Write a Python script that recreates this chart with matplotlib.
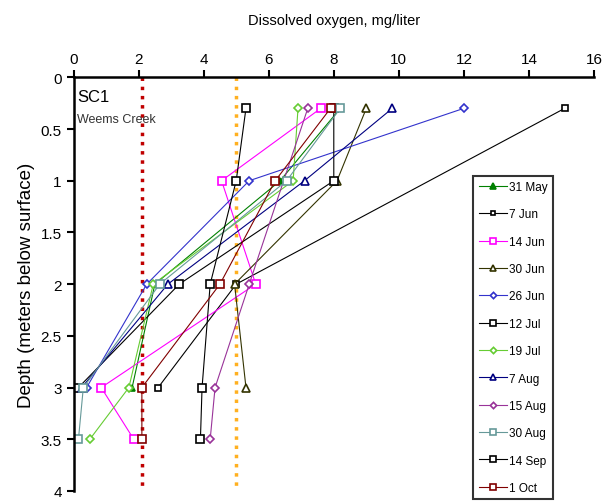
import numpy as np
import matplotlib.pyplot as plt

nan = np.nan

# sampling depths (m below surface)
depths = [0.3, 1.0, 2.0, 3.0, 3.5]

dates = ['31 May', '7 Jun', '14 Jun', '30 Jun', '26 Jun', '12 Jul',
         '19 Jul', '7 Aug', '15 Aug', '30 Aug', '14 Sep', '1 Oct']

# dissolved oxygen (mg/liter) at each depth, one list per date
do_31may = [8.2, 6.35, 2.5, 1.8, nan]
do_7jun = [15.1, nan, 5.0, 2.6, nan]
do_14jun = [7.6, 4.55, 5.6, 0.85, 1.85]
do_30jun = [9.0, 8.1, 4.95, 5.3, nan]
do_26jun = [12.0, 5.4, 2.25, 0.4, nan]
do_12jul = [8.0, 8.0, 3.25, 0.15, nan]
do_19jul = [6.9, 6.75, 2.45, 1.7, 0.5]
do_7aug = [9.8, 7.1, 2.9, 0.25, nan]
do_15aug = [7.2, nan, 5.4, 4.35, 4.2]
do_30aug = [8.2, 6.55, 2.65, 0.3, 0.15]
do_14sep = [5.3, 5.0, 4.2, 3.95, 3.9]
do_1oct = [7.9, 6.2, 4.5, 2.1, 2.1]

series = [do_31may, do_7jun, do_14jun, do_30jun, do_26jun, do_12jul,
          do_19jul, do_7aug, do_15aug, do_30aug, do_14sep, do_1oct]

colors = ['#008000', '#000000', '#FF00FF', '#333300', '#3333CC', '#000000',
          '#66CC33', '#000080', '#993399', '#669999', '#000000', '#800000']
markers = ['^', 's', 's', '^', 'D', 's', 'D', '^', 'D', 's', 's', 's']
msizes = [5, 4, 6, 6, 4, 6, 4, 6, 4, 6, 6, 6]

# reference levels, mg/liter
low_do = 2.1
stress_do = 5.0

plt.rcParams['font.family'] = ['Liberation Sans', 'DejaVu Sans']


def do_profile():
    fig = plt.figure(figsize=(6.08, 5.02), dpi=100)
    ax = fig.add_axes([0.121, 0.02, 0.856, 0.824])

    ax.plot([low_do, low_do], [0, 4], color='#C00000', ls=':', lw=2.5)
    ax.plot([stress_do, stress_do], [0, 4], color='#FFB020', ls=':', lw=2.5)

    for d, y, c, m, s in zip(dates, series, colors, markers, msizes):
        y = np.array(y)
        ok = ~np.isnan(y)
        ax.plot(y[ok], np.array(depths)[ok], color=c, lw=0.8, marker=m,
                ms=s, mfc='white' if m != '^' or c != '#008000' else c,
                mec=c, mew=1.2, label=d)

    ax.set_xlim(0, 16)
    ax.set_ylim(4, 0)
    ax.set_xticks(np.arange(0, 17, 2))
    ax.set_yticks(np.arange(0, 4.01, 0.5))
    ax.set_yticklabels(['0', '0.5', '1', '1.5', '2', '2.5', '3', '3.5', '4'])
    ax.xaxis.tick_top()
    ax.xaxis.set_label_position('top')
    ax.tick_params(axis='both', labelsize=11, width=1.5, length=5,
                   direction='out')
    ax.set_xlabel('Dissolved oxygen, mg/liter', fontsize=10.5, labelpad=20)
    ax.set_ylabel('Depth (meters below surface)', fontsize=13.5, labelpad=4)

    for side in ['bottom', 'right']:
        ax.spines[side].set_visible(False)
    ax.spines['left'].set_linewidth(1.8)
    ax.spines['top'].set_linewidth(1.8)

    ax.text(0.12, 0.19, 'SC1', fontsize=12, va='center')
    ax.text(0.12, 0.4, 'Weems Creek', fontsize=9, va='center',
            color='#333333')

    leg = ax.legend(loc='upper left', bbox_to_anchor=(0.768, 0.762),
                    fontsize=8.5, frameon=True, fancybox=False,
                    edgecolor='black', handlelength=2.4, handletextpad=0.2,
                    labelspacing=1.3, borderpad=0.45, markerscale=0.8,
                    borderaxespad=0)
    leg.get_frame().set_linewidth(1.5)

    fig.savefig('out.png', dpi=100)


if __name__ == '__main__':
    do_profile()
